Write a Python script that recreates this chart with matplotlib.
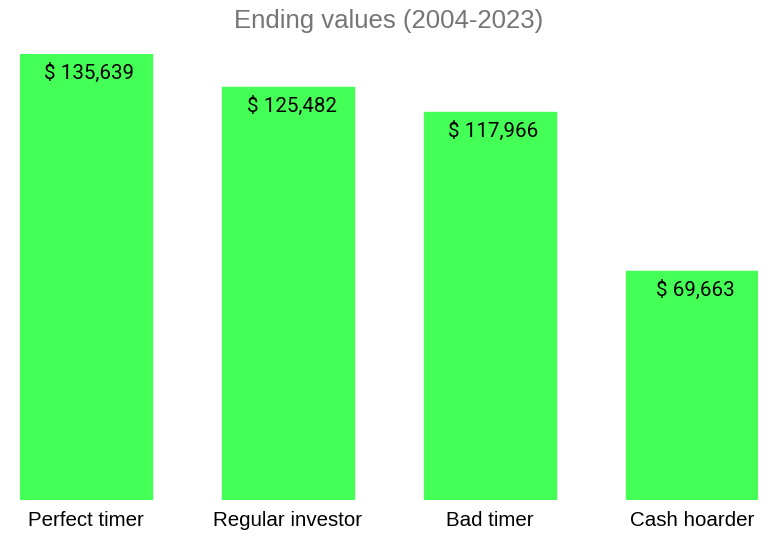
import matplotlib
matplotlib.use("Agg")
import matplotlib.pyplot as plt

categories = ["Perfect timer", "Regular investor", "Bad timer", "Cash hoarder"]
values = [135639, 125482, 117966, 69663]
title = "Ending values (2004-2023)"

W, H = 778, 541
fig = plt.figure(figsize=(W / 100, H / 100), dpi=100)
ax = fig.add_axes([20 / W, 41 / H, 738 / W, 446 / H])

x = list(range(len(categories)))
ax.bar(x, values, width=132 / 202, color="#44FF55", edgecolor="#44FF55",
       linewidth=1.0, joinstyle="round")
ax.set_xlim(-66 / 202, len(categories) - 1 + 66 / 202)
ax.set_ylim(0, max(values))
ax.axis("off")

for xi, v in zip(x, values):
    ax.annotate(f"$ {v:,}", (xi, v), xytext=(2.5, -13.5), textcoords="offset points",
                ha="center", va="center", fontsize=14.8, family="Roboto", color="black")
    ax.annotate(categories[xi], (xi, 0), xytext=(0, -15), textcoords="offset points",
                ha="center", va="center", fontsize=14.8, family="Liberation Sans", color="black")

fig.text(0.5, 1 - 21 / H, title, ha="center", va="center", fontsize=18.5,
         family="Liberation Sans", color="#757575")

fig.savefig("out.png", dpi=100)
